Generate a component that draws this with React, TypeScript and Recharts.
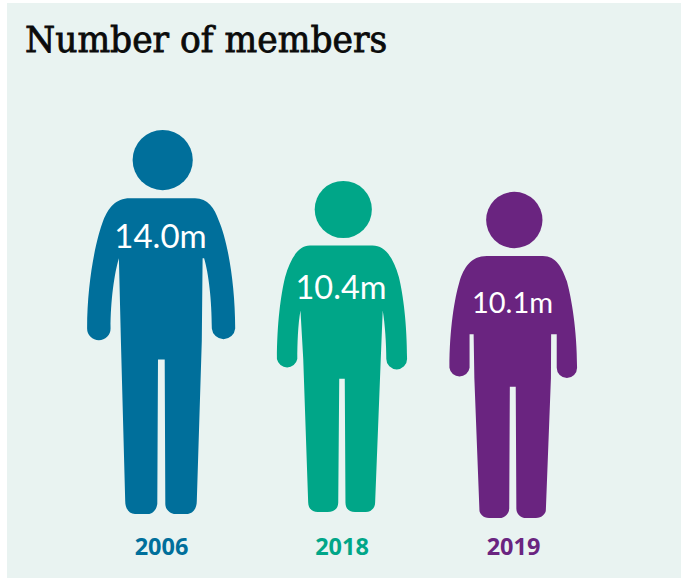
import React from 'react';
import { BarChart, Bar, XAxis, YAxis, LabelList } from 'recharts';

const years = ['2006', '2018', '2019'];
const members = [14.0, 10.4, 10.1];
const colors = ['#006F9B', '#00A688', '#6A2480'];

const rows = years.map((year, i) => ({ year, members: members[i] }));

// Person outlines, local units: x from the figure's centre, y from the top of the head.
const people = [
  {
    height: 383,
    head: { cx: 1.2, cy: 30, r: 30 },
    body: 'M-31.5 68 L33.5 68 C46 68 53 78 57 90 C65 108 73.5 150 73.5 198 A11.7 11.7 0 0 1 50.2 198 C50.2 170 47 143 42.5 128 L41 128 L40.2 210 L35.2 370 C35.2 378 31 383 25 383 L14 383 C8 383 3.8 378 3.8 373 L3.2 229 L-3.5 229 L-4.2 373 C-5 378 -8 383 -13.5 383 L-26.5 383 C-32 383 -36.2 378 -36.2 370 L-40.5 210 L-42.5 128 C-47 143 -50.8 170 -50.8 198 A11.7 11.7 0 0 1 -74.2 198 C-74.2 150 -65 108 -58 90 C-53 78 -46 68 -31.5 68 Z',
    labelAt: 0.274,
    labelSize: 33,
  },
  {
    height: 334.7,
    head: { cx: 1.3, cy: 28.8, r: 28.9 },
    body: 'M-32.5 65.3 L30.8 65.3 C44 65.3 52 78 57.5 97 C62 115 65.8 145 65.8 180 A10.5 10.5 0 0 1 44.8 180 C44.8 165 43.5 145 41.2 131 L39.2 180 L33.5 325 C33.5 330 30 334.7 24 334.7 L13.2 334.7 C7 334.7 3.5 331 3.5 325 L2.8 200 L-2.8 200 L-3.8 325 C-3.8 331 -8 334.7 -14.5 334.7 L-24.5 334.7 C-30 334.7 -34.2 331 -34.2 325 L-39.2 180 L-42 131 C-44.5 145 -45.2 165 -45.2 180 A10.5 10.5 0 0 1 -65.8 180 C-65.8 145 -62 115 -57.5 97 C-52 78 -44 65.3 -32.5 65.3 Z',
    labelAt: 0.32,
    labelSize: 32.5,
  },
  {
    height: 320.7,
    head: { cx: 0.8, cy: 27.7, r: 27.7 },
    body: 'M-26.2 63 L28.8 63 C42 63 48 75 52.5 88 C57 105 62.5 135 62.5 173 A10 10 0 0 1 42.5 173 L42.5 140 L37 140 L36.8 183 L31.8 313 C31.8 316 28 320.7 22 320.7 L12.8 320.7 C6 320.7 2.8 316 2.8 311 L2.2 191.7 L-3.6 191.7 L-4.2 311 C-4.2 316 -8 320.7 -14 320.7 L-24 320.7 C-30 320.7 -33.5 316 -33.5 313 L-38.5 183 L-39.2 140 L-43.2 140 L-43.2 173 A10 10 0 0 1 -63 173 C-63 135 -58 105 -53 88 C-49 75 -42 63 -26.2 63 Z',
    labelAt: 0.337,
    labelSize: 29,
  },
];

// The three figures are not spaced quite evenly, and the shorter ones sit off the shared baseline.
const shiftX = [0, 4.5, 0];
const shiftY = [0, -2, 4];

const Person = ({ x, y, width, height, index }: any) => {
  const person = people[index];
  const s = height / person.height;
  const cx = x + width / 2 + shiftX[index];
  return (
    <g transform={`translate(${cx} ${y + shiftY[index]}) scale(${s})`} fill={colors[index]}>
      <circle cx={person.head.cx} cy={person.head.cy} r={person.head.r} />
      <path d={person.body} />
    </g>
  );
};

const MemberLabel = ({ x, y, width, height, value, index }: any) => {
  const person = people[index];
  return (
    <text
      x={x + width / 2 + shiftX[index] - 1}
      y={y + shiftY[index] + height * person.labelAt}
      textAnchor="middle"
      dominantBaseline="central"
      fill="#fff"
      fontFamily="Lato"
      fontSize={person.labelSize}
    >
      {Number(value).toFixed(1)}m
    </text>
  );
};

const YearTick = ({ x, y, payload, index }: any) => (
  <text
    x={x + shiftX[index]}
    y={y + 26}
    textAnchor="middle"
    dominantBaseline="central"
    fill={colors[index]}
    fontFamily="Open Sans"
    fontWeight={700}
    fontSize={23.5}
  >
    {payload.value}
  </text>
);

export default function App() {
  return (
    <div style={{ position: 'absolute', left: 0, top: 0, width: 691, height: 584, background: '#fff' }}>
      <div style={{ position: 'absolute', left: 7, top: 3, width: 674, height: 575, background: '#E9F3F1' }} />
      <div
        style={{
          position: 'absolute',
          left: 25,
          top: 19,
          fontFamily: 'DejaVu Serif',
          fontSize: 34.5,
          lineHeight: '42px',
          color: '#0B0B0B',
          WebkitTextStroke: '0.8px #0B0B0B',
          whiteSpace: 'nowrap',
        }}
      >
        Number of members
      </div>
      <div style={{ position: 'absolute', left: 0, top: 0 }}>
        <BarChart
          width={691}
          height={584}
          data={rows}
          margin={{ top: 130, right: 89.5, bottom: 30, left: 73.5 }}
        >
          <XAxis
            dataKey="year"
            axisLine={false}
            tickLine={false}
            height={40}
            tickMargin={0}
            tick={<YearTick />}
            interval={0}
          />
          <YAxis hide scale="sqrt" domain={[0, 14]} />
          <Bar dataKey="members" isAnimationActive={false} shape={<Person />} barSize={150}>
            <LabelList dataKey="members" content={<MemberLabel />} />
          </Bar>
        </BarChart>
      </div>
    </div>
  );
}
